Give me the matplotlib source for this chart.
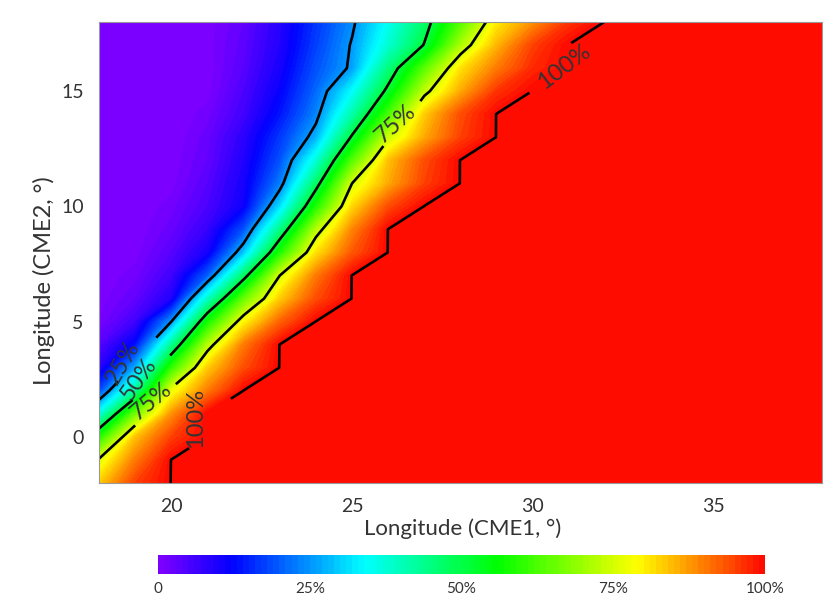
import numpy as np
import matplotlib
matplotlib.use('Agg')
import matplotlib.pyplot as plt
from matplotlib.colors import LinearSegmentedColormap

# grid of CME1 / CME2 longitudes (degrees)
lon_cme1 = list(range(18, 39))
lon_cme2 = list(range(-2, 19))

# probability (%), one row per CME2 longitude, columns = CME1 longitude 18..38
prob = [
    [83, 95, 100, 100, 100, 100, 100, 100, 100, 100, 100, 100, 100, 100, 100, 100, 100, 100, 100, 100, 100],
    [76, 90, 100, 100, 100, 100, 100, 100, 100, 100, 100, 100, 100, 100, 100, 100, 100, 100, 100, 100, 100],
    [58, 84, 95, 100, 100, 100, 100, 100, 100, 100, 100, 100, 100, 100, 100, 100, 100, 100, 100, 100, 100],
    [36, 66, 88, 100, 100, 100, 100, 100, 100, 100, 100, 100, 100, 100, 100, 100, 100, 100, 100, 100, 100],
    [18, 43, 77, 90, 100, 100, 100, 100, 100, 100, 100, 100, 100, 100, 100, 100, 100, 100, 100, 100, 100],
    [8, 27, 60, 83, 94, 100, 100, 100, 100, 100, 100, 100, 100, 100, 100, 100, 100, 100, 100, 100, 100],
    [4, 13, 43, 72, 90, 100, 100, 100, 100, 100, 100, 100, 100, 100, 100, 100, 100, 100, 100, 100, 100],
    [1, 6, 25, 57, 79, 92, 100, 100, 100, 100, 100, 100, 100, 100, 100, 100, 100, 100, 100, 100, 100],
    [0.3, 3, 9, 38.5, 64.6, 83, 94, 100, 100, 100, 100, 100, 100, 100, 100, 100, 100, 100, 100, 100, 100],
    [0.2, 1.5, 6, 20, 47, 75, 90, 100, 100, 100, 100, 100, 100, 100, 100, 100, 100, 100, 100, 100, 100],
    [0, 0.5, 4, 10, 29, 58, 81, 93, 100, 100, 100, 100, 100, 100, 100, 100, 100, 100, 100, 100, 100],
    [0, 0.2, 2.5, 7, 19, 44, 72, 89, 100, 100, 100, 100, 100, 100, 100, 100, 100, 100, 100, 100, 100],
    [0, 0, 1.5, 5, 11, 31, 58, 82, 94, 100, 100, 100, 100, 100, 100, 100, 100, 100, 100, 100, 100],
    [0, 0, 0.5, 4, 10, 22.6, 47, 75, 86, 95, 100, 100, 100, 100, 100, 100, 100, 100, 100, 100, 100],
    [0, 0, 0.3, 3, 9, 19, 37, 63, 84, 94, 100, 100, 100, 100, 100, 100, 100, 100, 100, 100, 100],
    [0, 0, 0, 2.5, 8, 16.6, 27.4, 51, 74, 86, 95, 100, 100, 100, 100, 100, 100, 100, 100, 100, 100],
    [0, 0, 0, 1.5, 6, 13.5, 23.3, 41, 62, 83, 94, 100, 100, 100, 100, 100, 100, 100, 100, 100, 100],
    [0, 0, 0, 0.5, 5, 11.5, 21, 34, 52, 73, 86, 96, 100, 100, 100, 100, 100, 100, 100, 100, 100],
    [0, 0, 0, 0.3, 4, 10, 19, 26, 45, 63.5, 81, 90, 97, 100, 100, 100, 100, 100, 100, 100, 100],
    [0, 0, 0, 0.5, 3.5, 9, 17.4, 25.5, 37.6, 50.4, 71, 85, 95, 100, 100, 100, 100, 100, 100, 100, 100],
    [0, 0, 0, 0.3, 3, 8.5, 16.5, 24, 35, 47, 63, 80, 88, 96, 100, 100, 100, 100, 100, 100, 100],
]

x_ticks = [20, 25, 30, 35]
y_ticks = [0, 5, 10, 15]
cbar_ticks = [0, 25, 50, 75, 100]
cbar_labels = ['0', '25%', '50%', '75%', '100%']
line_levels = [25, 50, 75, 99.9]
line_names = {25: '25%', 50: '50%', 75: '75%', 99.9: '100%'}
# where each label breaks its line
label_spots = [(19.1, 3.3), (19.5, 2.5), (19.55, 1.4), (21.15, 0.65), (26.37, 13.6), (30.63, 16.06)]
# where the label text sits and how it is turned
label_place = [('25%', 18.65, 3.2, 60), ('50%', 19.1, 2.5, 55), ('75%', 19.45, 1.55, 40),
               ('100%', 20.66, 0.82, 90), ('75%', 26.2, 13.6, 42), ('100%', 30.86, 16.06, 37)]

plt.rcParams['font.family'] = ['Lato', 'DejaVu Sans']
txt = '#333333'

# rainbow table: purple -> blue -> cyan -> green -> yellow -> red
cmap = LinearSegmentedColormap.from_list('idl_rainbow', [
    (0.0, (0.50, 0.0, 1.0)),
    (0.12, (0.0, 0.0, 1.0)),
    (0.34, (0.0, 1.0, 1.0)),
    (0.56, (0.0, 1.0, 0.0)),
    (0.79, (1.0, 1.0, 0.0)),
    (1.0, (1.0, 0.03, 0.0)),
])

fig = plt.figure(figsize=(8.3, 6.04), dpi=100)
ax = fig.add_axes([0.1193, 0.2003, 0.8711, 0.7633])

X, Y = np.meshgrid(lon_cme1, lon_cme2)
Z = np.array(prob)
cf = ax.contourf(X, Y, Z, levels=np.linspace(0, 100, 101), cmap=cmap)
cs = ax.contour(X, Y, Z, levels=line_levels, colors='k', linewidths=1.9)
labels = ax.clabel(cs, fmt=line_names, manual=label_spots, inline=True, fontsize=17,
                   colors=txt, inline_spacing=6)

# move each label text to the spot it has in the original
free = list(label_place)
for t in labels:
    px, py = t.get_position()
    same = [p for p in free if p[0] == t.get_text()]
    best = min(same, key=lambda p: (p[1] - px) ** 2 + (p[2] - py) ** 2)
    free.remove(best)
    t.set_position((best[1], best[2]))
    t.set_rotation(best[3])

ax.set_xlim(18, 38)
ax.set_ylim(-2, 18)
ax.set_xticks(x_ticks)
ax.set_yticks(y_ticks)
ax.tick_params(length=0, labelsize=14, labelcolor=txt, pad=11)
ax.set_xlabel('Longitude (CME1, °)', fontsize=16, color=txt)
ax.set_ylabel('Longitude (CME2, °)', fontsize=17, color=txt)
ax.xaxis.set_label_coords(0.503, -0.076)
ax.yaxis.set_label_coords(-0.061, 0.44)
for s in ax.spines.values():
    s.set_color('#999999')
    s.set_linewidth(0.8)

# colour bar below the map
cax = fig.add_axes([0.1904, 0.0497, 0.7313, 0.0315])
cb = fig.colorbar(cf, cax=cax, orientation='horizontal')
cb.set_ticks(cbar_ticks)
cb.set_ticklabels(cbar_labels)
cb.outline.set_visible(False)
cax.tick_params(length=0, labelsize=11, labelcolor=txt, pad=6)

fig.savefig('out.png', dpi=100)
